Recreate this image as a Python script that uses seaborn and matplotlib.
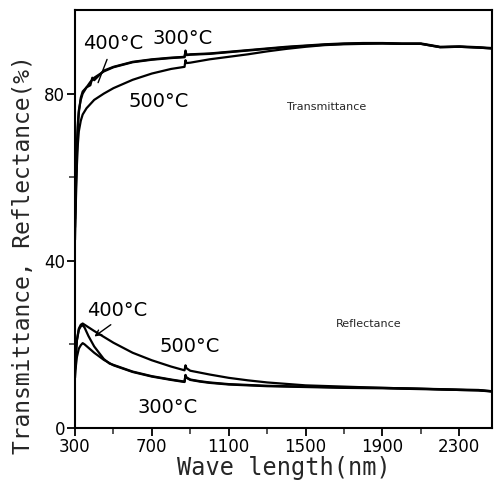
import matplotlib
matplotlib.use("Agg")
import matplotlib.pyplot as plt
import seaborn as sns
import pandas as pd
from matplotlib.ticker import AutoMinorLocator

# ---- data ----
t300_wl = [300, 305, 310, 315, 320, 330, 340, 360, 380, 400, 450, 500, 600, 700, 800, 870, 875, 880, 900, 1000, 1100, 1200, 1300, 1400, 1500, 1600, 1700, 1800, 1900, 2000, 2100, 2150, 2200, 2300, 2400, 2470]
t300_val = [50, 60, 68, 73, 76, 78.5, 80, 81.5, 82.8, 83.8, 85.3, 86.3, 87.5, 88.1, 88.5, 88.7, 90.3, 89.3, 89.4, 89.6, 90.0, 90.4, 90.8, 91.2, 91.5, 91.8, 92.0, 92.1, 92.1, 92.0, 92.0, 91.6, 91.2, 91.3, 91.1, 90.9]

t400_wl = [300, 305, 310, 315, 320, 330, 340, 360, 380, 390, 400, 450, 500, 600, 700, 800, 870, 875, 880, 900, 1000, 1100, 1200, 1300, 1400, 1500, 1600, 1700, 1800, 1900, 2000, 2100, 2150, 2200, 2300, 2400, 2470]
t400_val = [48, 58, 66, 72, 75.5, 79, 80.5, 81.5, 82.0, 83.8, 83.2, 85.5, 86.4, 87.6, 88.2, 88.6, 88.8, 90.0, 89.2, 89.3, 89.5, 89.9, 90.3, 90.7, 91.1, 91.4, 91.7, 91.9, 92.0, 92.0, 91.9, 91.9, 91.5, 91.1, 91.2, 91.0, 90.8]

t500_wl = [300, 305, 310, 315, 320, 330, 340, 360, 400, 450, 500, 600, 700, 800, 870, 875, 880, 900, 1000, 1100, 1200, 1300, 1400, 1500, 1600, 1700, 1800, 1900, 2000, 2100, 2150, 2200, 2300, 2400, 2470]
t500_val = [45, 55, 63, 68, 71, 73.5, 75, 76.5, 78.5, 80, 81.3, 83.3, 84.8, 85.9, 86.4, 88.0, 87.3, 87.4, 88.2, 88.8, 89.4, 90.1, 90.7, 91.2, 91.6, 91.8, 91.9, 92.0, 91.9, 91.9, 91.5, 91.1, 91.2, 91.0, 90.8]

r300_wl = [300, 305, 310, 320, 330, 340, 350, 370, 400, 450, 500, 600, 700, 800, 870, 875, 880, 900, 950, 1000, 1100, 1300, 1500, 1700, 1900, 2100, 2300, 2400, 2470]
r300_val = [12, 15, 17, 19, 19.8, 20.3, 20.0, 19.2, 18.0, 16.3, 15.0, 13.4, 12.3, 11.5, 11.0, 12.6, 12.0, 11.5, 11.1, 10.8, 10.4, 10.0, 9.8, 9.6, 9.5, 9.3, 9.1, 9.0, 8.7]

r400_wl = [300, 305, 310, 320, 330, 340, 350, 370, 400, 450, 480, 500, 600, 700, 800, 870, 875, 880, 900, 950, 1000, 1100, 1300, 1500, 1700, 1900, 2100, 2300, 2400, 2470]
r400_val = [14, 18, 21, 23.5, 24.3, 24.6, 24.0, 22.0, 19.5, 16.5, 15.4, 15.1, 13.5, 12.4, 11.6, 11.1, 12.7, 12.1, 11.6, 11.2, 10.9, 10.5, 10.1, 9.9, 9.7, 9.6, 9.4, 9.2, 9.1, 8.8]

r500_wl = [300, 305, 310, 320, 330, 340, 350, 400, 450, 500, 600, 700, 800, 870, 875, 880, 900, 1000, 1100, 1200, 1300, 1500, 1700, 1900, 2100, 2300, 2400, 2470]
r500_val = [14, 18, 21, 23.8, 24.7, 25.0, 24.7, 23.2, 21.8, 20.4, 18.0, 16.2, 14.7, 13.8, 15.0, 14.3, 13.7, 12.8, 12.0, 11.4, 10.9, 10.2, 9.9, 9.6, 9.4, 9.1, 9.0, 8.8]

x_ticks = [300, 700, 1100, 1500, 1900, 2300]
y_ticks = [0, 40, 80]

series = {
    "T300": (t300_wl, t300_val), "T400": (t400_wl, t400_val), "T500": (t500_wl, t500_val),
    "R300": (r300_wl, r300_val), "R400": (r400_wl, r400_val), "R500": (r500_wl, r500_val),
}
frames = []
for name, (wl, val) in series.items():
    frames.append(pd.DataFrame({"wl": wl, "val": val, "curve": name}))
df = pd.concat(frames, ignore_index=True)

sns.set_style("white")
plt.rcParams["font.family"] = ["DejaVu Sans"]

fig = plt.figure(figsize=(4.97, 4.80), dpi=100)
ax = fig.add_axes([75/497, 52/480, (492-75)/497, (428-10)/480])

sns.lineplot(data=df, x="wl", y="val", hue="curve", palette=["black"]*6,
             legend=False, ax=ax, linewidth=1.6, sort=False, estimator=None)

ax.set_xlim(300, 2470)
ax.set_ylim(0, 100)
ax.set_xticks(x_ticks)
ax.set_yticks(y_ticks)
ax.xaxis.set_minor_locator(AutoMinorLocator(2))
ax.set_yticks([20, 60], minor=True)
ax.tick_params(axis="both", which="major", direction="out", length=6, width=1.3,
               labelsize=12, color="black", labelcolor="black", pad=1,
               bottom=True, left=True)
ax.tick_params(axis="both", which="minor", direction="out", length=4, width=1.1,
               bottom=True, left=True)
for s in ax.spines.values():
    s.set_color("black")
    s.set_linewidth(1.5)

mono = "DejaVu Sans Mono"
ax.set_xlabel("Wave length(nm)", fontsize=17, family=mono, labelpad=0)
ax.set_ylabel("Transmittance, Reflectance(%)", fontsize=16.5, family=mono)
ax.yaxis.set_label_coords(-0.095, 0.414)

lab = dict(fontsize=14, ha="center", va="center", color="black")
ax.text(498, 92.1, "400°C", **lab)
ax.text(858, 93.3, "300°C", **lab)
ax.text(733, 78.0, "500°C", **lab)
ax.text(519, 28.2, "400°C", **lab)
ax.text(895, 19.4, "500°C", **lab)
ax.text(780, 5.0, "300°C", **lab)
ax.annotate("", xy=(415, 82.0), xytext=(472, 88.8),
            arrowprops=dict(arrowstyle="-", color="black", lw=1))
ax.annotate("", xy=(389, 21.5), xytext=(498, 25.1),
            arrowprops=dict(arrowstyle="->", color="black", lw=1))
ax.text(1609, 76.8, "Transmittance", fontsize=8, ha="center", va="center")
ax.text(1828, 24.9, "Reflectance", fontsize=8, ha="center", va="center")

fig.savefig("out.png", dpi=100)
